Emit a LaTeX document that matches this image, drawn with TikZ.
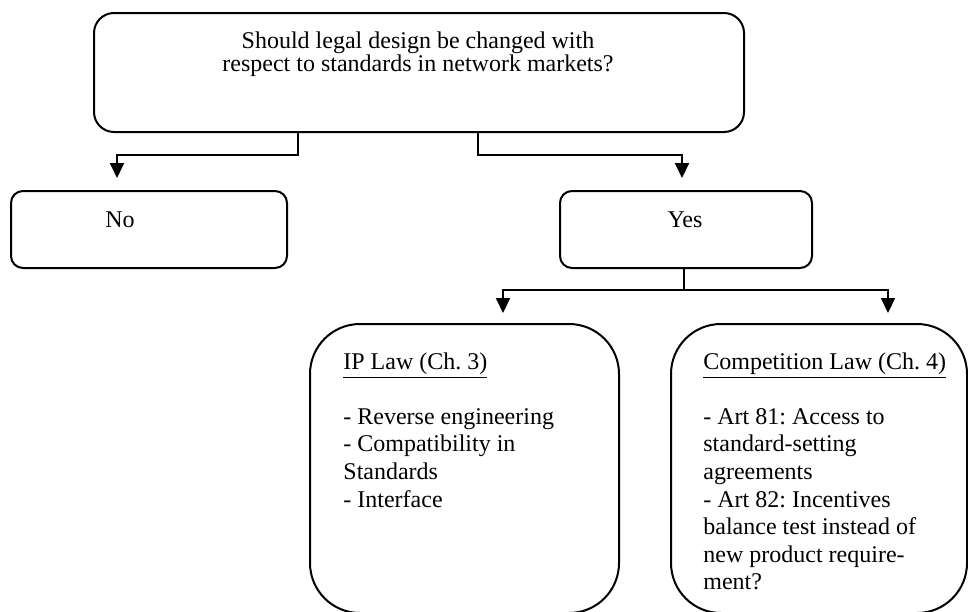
\documentclass[tikz,border=0pt]{standalone}
\usepackage{fontspec}
\setmainfont{Liberation Serif}
\usetikzlibrary{arrows.meta}
\begin{document}
\frenchspacing
\begin{tikzpicture}[x=0.5pt,y=-0.5pt,
  box/.style={draw, line width=1pt, inner sep=0pt, anchor=north west},
  txt/.style={inner sep=0pt, font=\fontsize{12}{13.8}\selectfont},
  conn/.style={line width=1pt},
  arr/.style={conn, -{Triangle[width=7pt,length=7.5pt]}}]
\useasboundingbox (0,0) rectangle (968,611);
% boxes
\node[box, rounded corners=10pt, minimum width=325pt, minimum height=59.5pt] (top) at (93,12) {};
\node[box, rounded corners=6pt, minimum width=138pt, minimum height=38.5pt] (no) at (10,190) {};
\node[box, rounded corners=6pt, minimum width=126pt, minimum height=38.5pt] (yes) at (559,190) {};
\node[box, rounded corners=25pt, minimum width=154.5pt, minimum height=144.5pt] (ip) at (309,323) {};
\node[box, rounded corners=25pt, minimum width=148pt, minimum height=144.5pt] (comp) at (670,323) {};
% texts (base anchor = baseline of the last line)
\node[txt, font=\fontsize{12}{11.5}\selectfont, align=center, anchor=base] (q) at (418,71) {Should legal design be changed with\\respect to standards in network markets?};
\node[txt, anchor=base] (nol) at (120,227) {No};
\node[txt, anchor=base] (yesl) at (685,227) {Yes};
\node[txt, align=left, anchor=base west] (ipt) at (343,507) {\underline{IP Law (Ch. 3)}\\[13.8pt]- Reverse engineering\\- Compatibility in\\Standards\\- Interface};
\node[txt, align=left, anchor=base west] (compt) at (703,589.8) {\underline{Competition Law (Ch. 4)}\\[13.8pt]- Art 81: Access to\\standard-setting\\agreements\\- Art 82: Incentives\\balance test instead of\\new product require-\\ment?};
% connector coordinates
\coordinate (hL) at (117,155);
\coordinate (hR) at (682,155);
\coordinate (hY) at (684,290);
\coordinate (sL) at (298,0);
\coordinate (sR) at (478,0);
\coordinate (aI) at (503,0);
\coordinate (aC) at (888,0);
% connectors
\draw[arr, shorten >=6pt] (top.south -| sL) |- (hL) -- (no.north -| hL);
\draw[arr, shorten >=6pt] (top.south -| sR) |- (hR) -- (yes.north -| hR);
\draw[conn] (yes.south -| hY) -- (hY);
\draw[arr, shorten >=5pt] (hY) -| (ip.north -| aI);
\draw[arr, shorten >=5pt] (hY) -| (comp.north -| aC);
\end{tikzpicture}
\end{document}
